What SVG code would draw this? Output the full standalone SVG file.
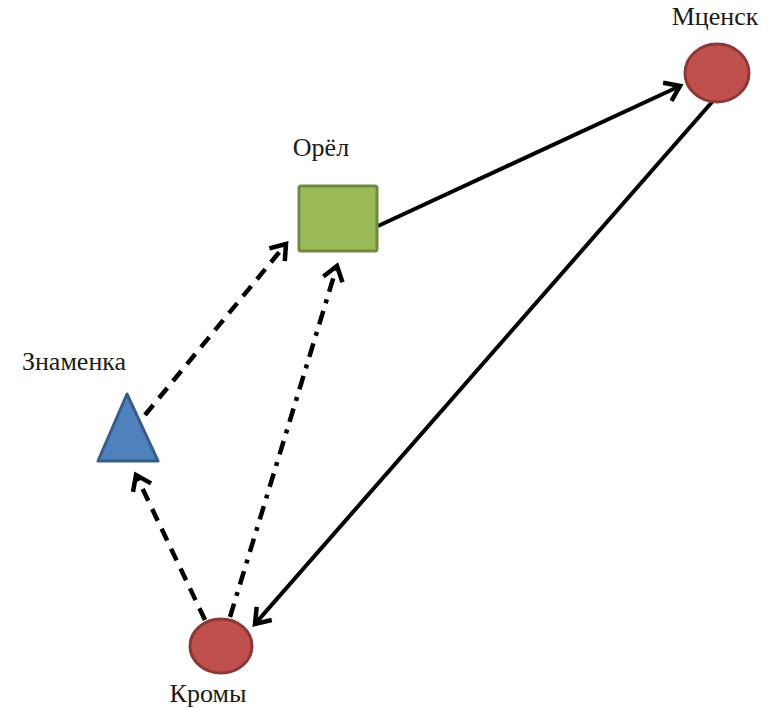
<svg xmlns="http://www.w3.org/2000/svg" width="774" height="709" viewBox="0 0 774 709">
<defs>
<style>
.lbl{font-family:"Liberation Serif","DejaVu Serif","Times New Roman",serif;font-size:26px;fill:#1a1a1a;text-anchor:middle}
.c{stroke:#000;fill:none;stroke-width:4.5}
.solid{stroke-width:4}
.dash{stroke-dasharray:13 9}
.dashdot{stroke-dasharray:14 8 4 8}
.red{fill:#C0504D;stroke:#8C3836;stroke-width:3}
</style>
<marker id="arr" markerUnits="userSpaceOnUse" viewBox="-18 -12 22 24" markerWidth="22" markerHeight="24" refX="0" refY="0" orient="auto" overflow="visible">
<path d="M-14,-10 L0,0 L-14,10" fill="none" stroke="#000" stroke-width="4.5" stroke-linejoin="miter"/>
</marker>
</defs>
<rect width="774" height="709" fill="#fff"/>
<g id="connectors">
<line class="c solid" x1="378" y1="226" x2="680" y2="86" marker-end="url(#arr)"/>
<line class="c solid" x1="712" y1="102" x2="255" y2="624" marker-end="url(#arr)"/>
<line class="c dash" x1="205" y1="620" x2="136" y2="475" marker-end="url(#arr)"/>
<line class="c dash" x1="145" y1="415" x2="286" y2="244" marker-end="url(#arr)"/>
<line class="c dashdot" x1="230" y1="617" x2="337" y2="266" marker-end="url(#arr)"/>
</g>
<g id="mcensk">
<ellipse class="red" cx="717" cy="73" rx="32" ry="29"/>
<text class="lbl" x="715" y="25">Мценск</text>
</g>
<g id="orel">
<rect x="299" y="186" width="78" height="65" rx="2" fill="#9BBB59" stroke="#71893F" stroke-width="3"/>
<text class="lbl" x="321" y="156">Орёл</text>
</g>
<g id="znamenka">
<polygon points="127,394 98,461 158,461" fill="#4F81BD" stroke="#385D8A" stroke-width="3" stroke-linejoin="round"/>
<text class="lbl" x="74" y="370">Знаменка</text>
</g>
<g id="kromy">
<ellipse class="red" cx="221" cy="646" rx="31" ry="27"/>
<text class="lbl" x="208" y="702">Кромы</text>
</g>
</svg>
